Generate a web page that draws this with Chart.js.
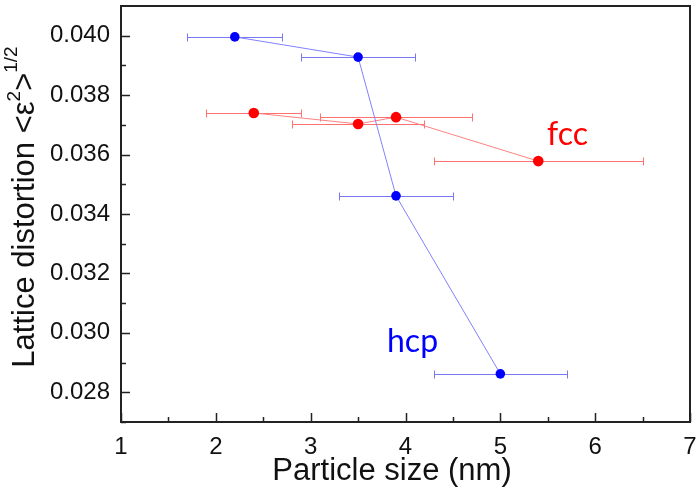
<!DOCTYPE html>
<html>
<head>
<meta charset="utf-8">
<script src="https://cdn.jsdelivr.net/npm/chart.js@4.4.0/dist/chart.umd.min.js"></script>
<style>
    body { margin: 0; background: #fff; }
    #wrap { width: 700px; height: 495px; position: relative; }
</style>
</head>
<body>
<div id="wrap"><canvas id="chart"></canvas></div>
<script>
// axis ticks
const xTicks = [1, 2, 3, 4, 5, 6, 7];
const yTicks = [0.028, 0.030, 0.032, 0.034, 0.036, 0.038, 0.040];

// hcp series (blue)
const hcpSize = [2.2, 3.5, 3.9, 5.0];
const hcpStrain = [0.03996, 0.03928, 0.03461, 0.02862];
const hcpSizeLow = [1.7, 2.9, 3.3, 4.3];
const hcpSizeHigh = [2.7, 4.1, 4.5, 5.7];

// fcc series (red)
const fccSize = [2.4, 3.5, 3.9, 5.4];
const fccStrain = [0.03740, 0.03703, 0.03726, 0.03578];
const fccSizeLow = [1.9, 2.8, 3.1, 4.3];
const fccSizeHigh = [2.9, 4.2, 4.7, 6.5];

const toPoints = (xs, ys) => xs.map((x, i) => ({ x: x, y: ys[i] }));

// horizontal error bars, drawn just before each dataset
const errorBars = {
    id: 'errorBars',
    beforeDatasetDraw(chart, args) {
        const ds = chart.data.datasets[args.index];
        if (!ds.errLow) return;
        const xs = chart.scales.x, ys = chart.scales.y;
        const ctx = chart.ctx;
        ctx.save();
        ctx.strokeStyle = ds.errColor;
        ctx.lineWidth = 1;
        ds.data.forEach((p, i) => {
            const y = Math.round(ys.getPixelForValue(p.y)) + 0.5;
            const x1 = Math.round(xs.getPixelForValue(ds.errLow[i])) + 0.5;
            const x2 = Math.round(xs.getPixelForValue(ds.errHigh[i])) + 0.5;
            ctx.beginPath();
            ctx.moveTo(x1, y); ctx.lineTo(x2, y);
            ctx.moveTo(x1, y - 4); ctx.lineTo(x1, y + 4);
            ctx.moveTo(x2, y - 4); ctx.lineTo(x2, y + 4);
            ctx.stroke();
        });
        ctx.restore();
    }
};

// frame, inward ticks, axis titles and labels
const decorations = {
    id: 'decorations',
    afterDraw(chart) {
        const ctx = chart.ctx;
        const a = chart.chartArea;
        const xs = chart.scales.x, ys = chart.scales.y;
        ctx.save();
        ctx.strokeStyle = '#222';
        ctx.lineWidth = 1.5;
        // ticks
        ctx.beginPath();
        xTicks.forEach((t, i) => {
            const x = Math.round(xs.getPixelForValue(t)) + 0.5;
            ctx.moveTo(x, a.bottom); ctx.lineTo(x, a.bottom - 9);
            if (i < xTicks.length - 1) {
                const m = Math.round(xs.getPixelForValue((t + xTicks[i + 1]) / 2)) + 0.5;
                ctx.moveTo(m, a.bottom); ctx.lineTo(m, a.bottom - 5);
            }
        });
        yTicks.forEach((t, i) => {
            const y = Math.round(ys.getPixelForValue(t)) + 0.5;
            ctx.moveTo(a.left, y); ctx.lineTo(a.left + 9, y);
            const m = Math.round(ys.getPixelForValue(t - 0.001)) + 0.5;
            ctx.moveTo(a.left, m); ctx.lineTo(a.left + 5, m);
            if (i === yTicks.length - 1) {
                const m2 = Math.round(ys.getPixelForValue(t + 0.001)) + 0.5;
                if (m2 > a.top + 2) { ctx.moveTo(a.left, m2); ctx.lineTo(a.left + 5, m2); }
            }
        });
        ctx.stroke();
        // frame
        ctx.lineWidth = 2;
        ctx.strokeRect(a.left, a.top, a.right - a.left, a.bottom - a.top);

        // x title
        ctx.fillStyle = '#111';
        ctx.font = '31px "Liberation Sans", Arial, sans-serif';
        ctx.textAlign = 'center';
        ctx.textBaseline = 'alphabetic';
        ctx.fillText('Particle size (nm)', 392, 480);

        // y title with superscripts
        const parts = [
            ['Lattice distortion <ε', 31, 0],
            ['2', 19, -14],
            ['>', 31, 0],
            ['1/2', 19, -17]
        ];
        let total = 0;
        parts.forEach(p => {
            ctx.font = p[1] + 'px "Liberation Sans", Arial, sans-serif';
            total += ctx.measureText(p[0]).width;
        });
        ctx.translate(34, 207);
        ctx.rotate(-Math.PI / 2);
        ctx.textAlign = 'left';
        let pos = -total / 2;
        parts.forEach(p => {
            ctx.font = p[1] + 'px "Liberation Sans", Arial, sans-serif';
            ctx.fillText(p[0], pos, p[2]);
            pos += ctx.measureText(p[0]).width;
        });
        ctx.restore();

        // series labels
        ctx.save();
        ctx.font = '32px Lato, "Open Sans", sans-serif';
        ctx.textAlign = 'left';
        ctx.fillStyle = '#ff0000';
        ctx.fillText('fcc', 547, 145);
        ctx.fillStyle = '#0000ff';
        ctx.fillText('hcp', 387, 352);
        ctx.restore();
    }
};

new Chart(document.getElementById('chart'), {
    type: 'scatter',
    data: {
        datasets: [
            {
                label: 'hcp',
                data: toPoints(hcpSize, hcpStrain),
                showLine: true,
                borderColor: '#8080ff',
                borderWidth: 1,
                backgroundColor: '#0000ff',
                pointBackgroundColor: '#0000ff',
                pointBorderWidth: 0,
                pointRadius: 4.8,
                errLow: hcpSizeLow,
                errHigh: hcpSizeHigh,
                errColor: '#7878f0'
            },
            {
                label: 'fcc',
                data: toPoints(fccSize, fccStrain),
                showLine: true,
                borderColor: '#ff8080',
                borderWidth: 1,
                backgroundColor: '#ff0000',
                pointBackgroundColor: '#ff0000',
                pointBorderWidth: 0,
                pointRadius: 5.3,
                errLow: fccSizeLow,
                errHigh: fccSizeHigh,
                errColor: '#ff7070'
            }
        ]
    },
    options: {
        responsive: true,
        maintainAspectRatio: false,
        animation: false,
        layout: { padding: { top: 6, right: 10, left: 0, bottom: 0 } },
        plugins: {
            legend: { display: false },
            tooltip: { enabled: false }
        },
        scales: {
            x: {
                type: 'linear',
                min: 1,
                max: 7,
                afterBuildTicks: s => { s.ticks = xTicks.map(v => ({ value: v })); },
                afterFit: s => { s.height = 73; s.paddingLeft = 0; s.paddingRight = 0; },
                grid: { display: false, drawTicks: false },
                border: { display: false },
                ticks: {
                    color: '#111',
                    padding: 11,
                    maxRotation: 0,
                    font: { family: '"Liberation Sans", Arial, sans-serif', size: 24 }
                }
            },
            y: {
                type: 'linear',
                min: 0.027,
                max: 0.041,
                afterBuildTicks: s => { s.ticks = yTicks.map(v => ({ value: v })); },
                afterFit: s => { s.width = 121; s.paddingTop = 0; s.paddingBottom = 0; },
                grid: { display: false, drawTicks: false },
                border: { display: false },
                ticks: {
                    color: '#111',
                    padding: 11,
                    callback: v => v.toFixed(3),
                    font: { family: '"Liberation Sans", Arial, sans-serif', size: 24 }
                }
            }
        }
    },
    plugins: [errorBars, decorations]
});
</script>
</body>
</html>
